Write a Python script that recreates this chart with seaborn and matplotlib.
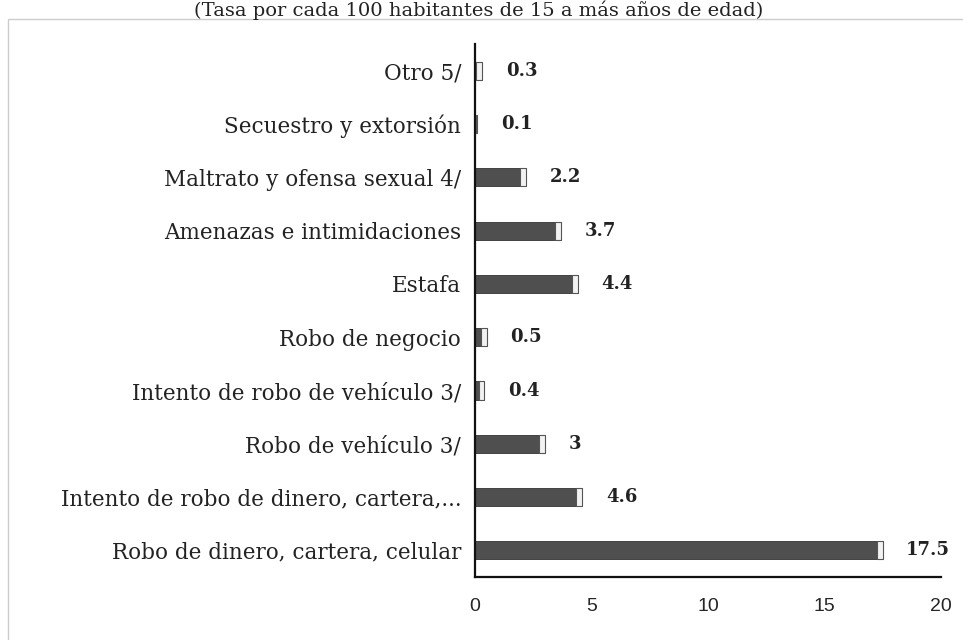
import matplotlib
matplotlib.use("Agg")
import matplotlib.pyplot as plt
import seaborn as sns
import pandas as pd
from matplotlib.patches import Rectangle

categorias = [
    "Otro 5/",
    "Secuestro y extorsión",
    "Maltrato y ofensa sexual 4/",
    "Amenazas e intimidaciones",
    "Estafa",
    "Robo de negocio",
    "Intento de robo de vehículo 3/",
    "Robo de vehículo 3/",
    "Intento de robo de dinero, cartera,...",
    "Robo de dinero, cartera, celular",
]
tasas = [0.3, 0.1, 2.2, 3.7, 4.4, 0.5, 0.4, 3, 4.6, 17.5]
etiquetas = ["0.3", "0.1", "2.2", "3.7", "4.4", "0.5", "0.4", "3", "4.6", "17.5"]
xticks = [0, 5, 10, 15, 20]
titulo = "(Tasa por cada 100 habitantes de 15 a más años de edad)"

df = pd.DataFrame({"cat": categorias, "val": tasas})

sns.set_style("white")
plt.rcParams["font.family"] = ["DejaVu Serif"]

fig = plt.figure(figsize=(9.63, 6.40), dpi=100)
ax = fig.add_axes([0.4933, 0.0984, 0.977 - 0.4933, 0.931 - 0.0984])

sns.barplot(data=df, y="cat", x="val", orient="h", color="#4f4f4f",
            width=0.34, edgecolor="#333333", linewidth=0.6, saturation=1, ax=ax)

# light end face of each bar
for p in ax.patches:
    w = p.get_width()
    cap = min(0.25, w * 0.8)
    ax.add_patch(Rectangle((p.get_x() + w - cap, p.get_y()), cap, p.get_height(),
                           facecolor="#f2f2f2", edgecolor="#555555", linewidth=0.8, zorder=3))

for p, lab in zip(ax.patches, etiquetas):
    ax.annotate(lab, (p.get_x() + p.get_width(), p.get_y() + p.get_height() / 2),
                xytext=(17, 0), textcoords="offset points", va="center", ha="left",
                fontsize=13, fontweight="bold", color="#222222")

ax.set_xlim(0, 20)
ax.set_ylim(9.5, -0.5)
ax.set_xticks(xticks)
ax.set_xticklabels([str(t) for t in xticks], family=["Liberation Sans"], fontsize=14)
ax.tick_params(axis="x", length=0, pad=15)
ax.tick_params(axis="y", length=0, pad=10, labelsize=15.5)
for lbl in ax.get_yticklabels():
    lbl.set_color("#222222")
ax.set_xlabel("")
ax.set_ylabel("")
for s in ["top", "right"]:
    ax.spines[s].set_visible(False)
for s in ["left", "bottom"]:
    ax.spines[s].set_color("#111111")
    ax.spines[s].set_linewidth(1.6)

# outer chart frame
fig.patches.append(Rectangle((0.008, -0.02), 1.1, 0.99,
                             transform=fig.transFigure, fill=False,
                             edgecolor="#cccccc", linewidth=1.0))

fig.text(0.497, 0.999, titulo, ha="center", va="top", fontsize=14, color="#222222")

fig.savefig("out.png", dpi=100)
